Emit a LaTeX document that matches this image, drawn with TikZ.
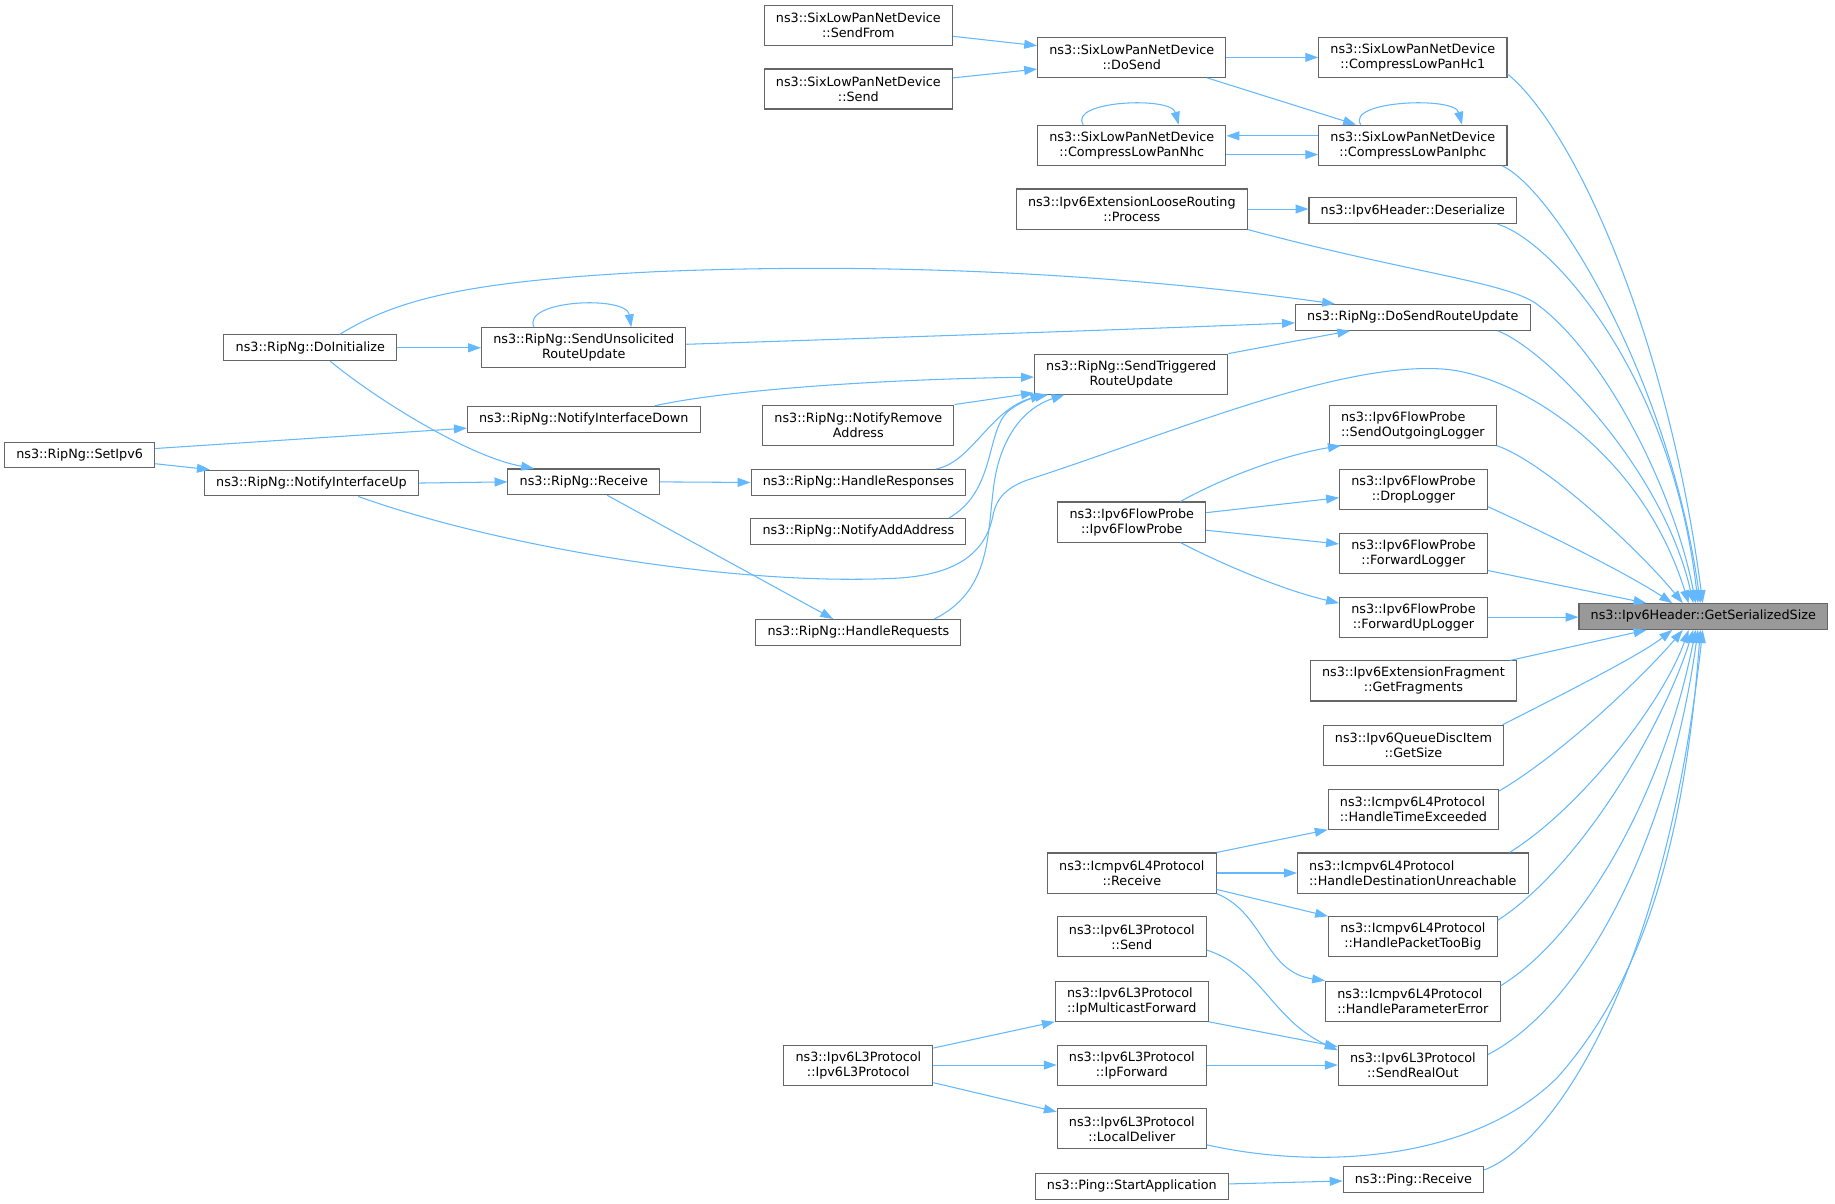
\documentclass[tikz,border=0pt]{standalone}
\usepackage{fontspec}
\setmainfont{DejaVu Sans}
\usetikzlibrary{arrows.meta,calc}
\definecolor{edgeblue}{HTML}{63B8FF}
\definecolor{boxgray}{HTML}{666666}
\definecolor{gssfill}{HTML}{999999}
\begin{document}
\begin{tikzpicture}[x=1pt,y=-1pt,
  base/.style={draw=boxgray,line width=0.9pt,fill=white,inner xsep=10pt,inner ysep=0pt,font=\fontsize{10.9}{12.8}\selectfont},
  box1/.style={base,minimum height=22pt,text height=8.2pt,text depth=2.6pt},
  box2/.style={base,minimum height=34.2pt,align=center},
  box2l/.style={base,minimum height=34.2pt,align=left},
  root/.style={box1,fill=gssfill},
  edge/.style={draw=edgeblue,line width=0.9pt,-{Triangle[length=11pt,width=7.6pt]}}
]
\fill[white] (0,0) rectangle (1567,1028);
\useasboundingbox (0,0) rectangle (1567,1028);

% nodes
\node[box2] (sf) at (733,21.5) {ns3::SixLowPanNetDevice\\::SendFrom};
\node[box2] (sd) at (733,76) {ns3::SixLowPanNetDevice\\::Send};
\node[box2] (ds) at (966.5,49) {ns3::SixLowPanNetDevice\\::DoSend};
\node[box2] (hc1) at (1206.5,49) {ns3::SixLowPanNetDevice\\::CompressLowPanHc1};
\node[box2] (nhc) at (966.5,124) {ns3::SixLowPanNetDevice\\::CompressLowPanNhc};
\node[box2] (iphc) at (1206.5,124) {ns3::SixLowPanNetDevice\\::CompressLowPanIphc};
\node[box2] (proc) at (966.5,178.5) {ns3::Ipv6ExtensionLooseRouting\\::Process};
\node[box1] (deser) at (1206.5,180) {ns3::Ipv6Header::Deserialize};
\node[box1] (dsru) at (1206.5,271) {ns3::RipNg::DoSendRouteUpdate};
\node[box2] (stru) at (966,319.5) {ns3::RipNg::SendTriggered\\RouteUpdate};
\node[box1] (doinit) at (265,297) {ns3::RipNg::DoInitialize};
\node[box2] (sunso) at (498.5,297) {ns3::RipNg::SendUnsolicited\\RouteUpdate};
\node[box1] (nidown) at (498.5,358) {ns3::RipNg::NotifyInterfaceDown};
\node[box2] (nrem) at (733,363) {ns3::RipNg::NotifyRemove\\Address};
\node[box1] (setipv6) at (68,388.5) {ns3::RipNg::SetIpv6};
\node[box1] (niup) at (266,412.5) {ns3::RipNg::NotifyInterfaceUp};
\node[box1] (rrecv) at (498.5,411.5) {ns3::RipNg::Receive};
\node[box1] (hresp) at (733,412) {ns3::RipNg::HandleResponses};
\node[box1] (naddr) at (733,454) {ns3::RipNg::NotifyAddAddress};
\node[box1] (hreq) at (733,540) {ns3::RipNg::HandleRequests};
\node[box2l] (sol) at (1206.5,363) {ns3::Ipv6FlowProbe\\::SendOutgoingLogger};
\node[box2] (fp) at (966.5,445.8) {ns3::Ipv6FlowProbe\\::Ipv6FlowProbe};
\node[box2] (drop) at (1207,418) {ns3::Ipv6FlowProbe\\::DropLogger};
\node[box2] (fwd) at (1207,472.5) {ns3::Ipv6FlowProbe\\::ForwardLogger};
\node[box2] (fwdup) at (1207,527) {ns3::Ipv6FlowProbe\\::ForwardUpLogger};
\node[root] (gss) at (1454.5,526.5) {ns3::Ipv6Header::GetSerializedSize};
\node[box2] (frag) at (1207,581.5) {ns3::Ipv6ExtensionFragment\\::GetFragments};
\node[box2] (qdi) at (1207,636.5) {ns3::Ipv6QueueDiscItem\\::GetSize};
\node[box2l] (hte) at (1207,691) {ns3::Icmpv6L4Protocol\\::HandleTimeExceeded};
\node[box2] (icr) at (966.5,745.5) {ns3::Icmpv6L4Protocol\\::Receive};
\node[box2l] (hdu) at (1206.5,745.5) {ns3::Icmpv6L4Protocol\\::HandleDestinationUnreachable};
\node[box2] (hptb) at (1206.5,800) {ns3::Icmpv6L4Protocol\\::HandlePacketTooBig};
\node[box2] (l3send) at (966.5,800) {ns3::Ipv6L3Protocol\\::Send};
\node[box2l] (hpe) at (1206.5,855) {ns3::Icmpv6L4Protocol\\::HandleParameterError};
\node[box2l] (imf) at (966.5,855) {ns3::Ipv6L3Protocol\\::IpMulticastForward};
\node[box2] (sro) at (1206.5,909.5) {ns3::Ipv6L3Protocol\\::SendRealOut};
\node[box2] (l3) at (733,909.5) {ns3::Ipv6L3Protocol\\::Ipv6L3Protocol};
\node[box2] (ipf) at (966.5,909.5) {ns3::Ipv6L3Protocol\\::IpForward};
\node[box2] (ld) at (966.5,964) {ns3::Ipv6L3Protocol\\::LocalDeliver};
\node[box1] (prec) at (1207,1007.5) {ns3::Ping::Receive};
\node[box1] (psa) at (966.5,1013) {ns3::Ping::StartApplication};

% top edges
\draw[edge] ([yshift=-9.5pt]sf.east) -- ([yshift=10pt]ds.west);
\draw[edge] ([yshift=9.5pt]sd.east) -- ([yshift=-10pt]ds.west);
\draw[edge] (ds.east) -- (hc1.west);
\draw[edge] ([xshift=64.5pt]ds.south) -- ([xshift=-48.5pt]iphc.north);
\draw[edge] ([yshift=8pt]iphc.west) -- ([yshift=8pt]nhc.east);
\draw[edge] ([yshift=-8pt]nhc.east) -- ([yshift=-8pt]iphc.west);
\draw[edge] ([xshift=-41.5pt]nhc.north) .. controls (912,86) and (1000,82) .. ([xshift=40pt]nhc.north);
\draw[edge] ([xshift=-44.5pt]iphc.north) .. controls (1149,86) and (1242,82) .. ([xshift=42pt]iphc.north);
\draw[edge] (proc.east) -- (proc.east -| deser.west);

% edges into GetSerializedSize from above
\draw[edge] (hc1.-10) .. controls (1345,110) and (1425,290) .. ([xshift=-0.5pt]gss.north);
\draw[edge] (iphc.-13) .. controls (1325,160) and (1425,320) .. ([xshift=-2.5pt]gss.north);
\draw[edge] (deser.-9) .. controls (1325,205) and (1428,320) .. ([xshift=-4.5pt]gss.north);
\draw[edge] (proc.south east) .. controls (1200,232) and (1280,240) .. (1310,258) .. controls (1370,300) and (1430,420) .. ([xshift=-6.5pt]gss.north);
\draw[edge] (dsru.-9) .. controls (1320,298) and (1420,400) .. ([xshift=-8.5pt]gss.north);
\draw[edge] (niup.-16) .. controls (420,465) and (620,500) .. (760,494) .. controls (820,492) and (842,470) .. (848,440) .. controls (851,425) and (860,415.5) .. (880,409) .. controls (1000,370) and (1140,310) .. (1230,315) .. controls (1290,318) and (1400,380) .. ([xshift=-12.5pt]gss.north);
\draw[edge] (sol.south east) .. controls (1320,395) and (1400,470) .. ([xshift=-17.5pt]gss.north);
\draw[edge] (drop.-13) .. controls (1320,455) and (1390,490) .. ([xshift=-26.5pt]gss.north);
\draw[edge] (fwd.-13) -- ([xshift=-48.5pt]gss.north);
\draw[edge] (fwdup.east) -- (fwdup.east -| gss.west);

% edges into GetSerializedSize from below
\draw[edge] (frag.12) -- ([xshift=-48.5pt]gss.south);
\draw[edge] (qdi.13.5) .. controls (1330,595) and (1400,560) .. ([xshift=-26.5pt]gss.south);
\draw[edge] (hte.12) .. controls (1340,640) and (1410,570) .. ([xshift=-17.5pt]gss.south);
\draw[edge] (hdu.12) .. controls (1350,690) and (1420,600) .. ([xshift=-12.5pt]gss.south);
\draw[edge] (hptb.11) .. controls (1350,740) and (1420,620) .. ([xshift=-8.5pt]gss.south);
\draw[edge] (hpe.10.5) .. controls (1350,800) and (1420,680) .. ([xshift=-6.5pt]gss.south);
\draw[edge] (sro.8) .. controls (1350,860) and (1425,720) .. ([xshift=-4.5pt]gss.south);
\draw[edge] (ld.-12) .. controls (1130,1000) and (1260,990) .. (1330,920) .. controls (1410,830) and (1440,700) .. ([xshift=-2.5pt]gss.south);
\draw[edge] (prec.8) .. controls (1320,980) and (1420,850) .. ([xshift=-0.5pt]gss.south);

% RipNg edges
\draw[edge] ([xshift=25pt]doinit.north) .. controls (340,255) and (400,240) .. (560,232) .. controls (800,222) and (1000,240) .. ([xshift=-66.5pt]dsru.north);
\draw[edge] (doinit.east) -- (sunso.west);
\draw[edge] ([xshift=-42.5pt]sunso.north) .. controls (445,256) and (535,252) .. ([xshift=40.5pt]sunso.north);
\draw[edge] ([yshift=3pt]sunso.east) .. controls (800,287) and (1000,280) .. ([yshift=-4.7pt]dsru.west);
\draw[edge] (stru.north east) -- ([xshift=-53.5pt]dsru.south);
\draw[edge] ([xshift=60.5pt]nidown.north) .. controls (620,333) and (750,324) .. ([yshift=-2.5pt]stru.west);
\draw[edge] (nrem.north east) -- ([yshift=1.5pt]stru.south west);
\draw[edge] ([xshift=66pt]hresp.north) .. controls (830,395) and (845,350) .. ([xshift=-75pt]stru.south);
\draw[edge] ([xshift=77pt]naddr.north) .. controls (850,420) and (842,370) .. (860,352) .. controls (868,345) and (880,340) .. ([xshift=-71pt]stru.south);
\draw[edge] ([xshift=65pt]hreq.north) .. controls (845,505) and (843,460) .. (848,420) .. controls (852,380) and (870,350) .. ([xshift=-57pt]stru.south);
\draw[edge] ([yshift=5.5pt]setipv6.east) -- ([yshift=-7.6pt]nidown.west);
\draw[edge] ([yshift=-7.5pt]setipv6.east) -- ([xshift=5pt]niup.north west);
\draw[edge] (niup.east) -- (rrecv.west);
\draw[edge] ([xshift=17pt]doinit.south) .. controls (320,340) and (400,390) .. ([xshift=-42.5pt]rrecv.north);
\draw[edge] (rrecv.east) -- (hresp.west);
\draw[edge] ([xshift=20pt]rrecv.south) -- ([xshift=-21.5pt]hreq.north);

% flow probe edges
\draw[edge] ([xshift=41.5pt]fp.north) .. controls (1050,405) and (1100,388) .. ([xshift=-61.5pt]sol.south);
\draw[edge] ([yshift=8pt]fp.east) -- ([yshift=-7pt]drop.west);
\draw[edge] ([yshift=-7pt]fp.east) -- ([yshift=8pt]fwd.west);
\draw[edge] ([xshift=41.5pt]fp.south) .. controls (1050,485) and (1100,505) .. ([yshift=12pt]fwdup.west);

% icmpv6 / ipv6l3 / ping edges
\draw[edge] (icr.north east) -- (hte.south west);
\draw[edge] (icr.east) -- (hdu.west);
\draw[edge] ([yshift=-14pt]icr.east) -- (hptb.north west);
\draw[edge] (icr.south east) .. controls (1080,780) and (1080,830) .. (hpe.north west);
\draw[edge] (l3send.-10) .. controls (1080,828) and (1085,870) .. ([yshift=-5pt]sro.north west);
\draw[edge] (imf.south east) -- ([yshift=-2pt]sro.north west);
\draw[edge] (ipf.east) -- (sro.west);
\draw[edge] ([yshift=-3pt]l3.north east) -- (imf.south west);
\draw[edge] (l3.east) -- (ipf.west);
\draw[edge] ([yshift=2.5pt]l3.south east) -- ([yshift=-3pt]ld.north west);
\draw[edge] ([yshift=2pt]psa.east) -- ([yshift=-1pt]prec.west);
\end{tikzpicture}
\end{document}
